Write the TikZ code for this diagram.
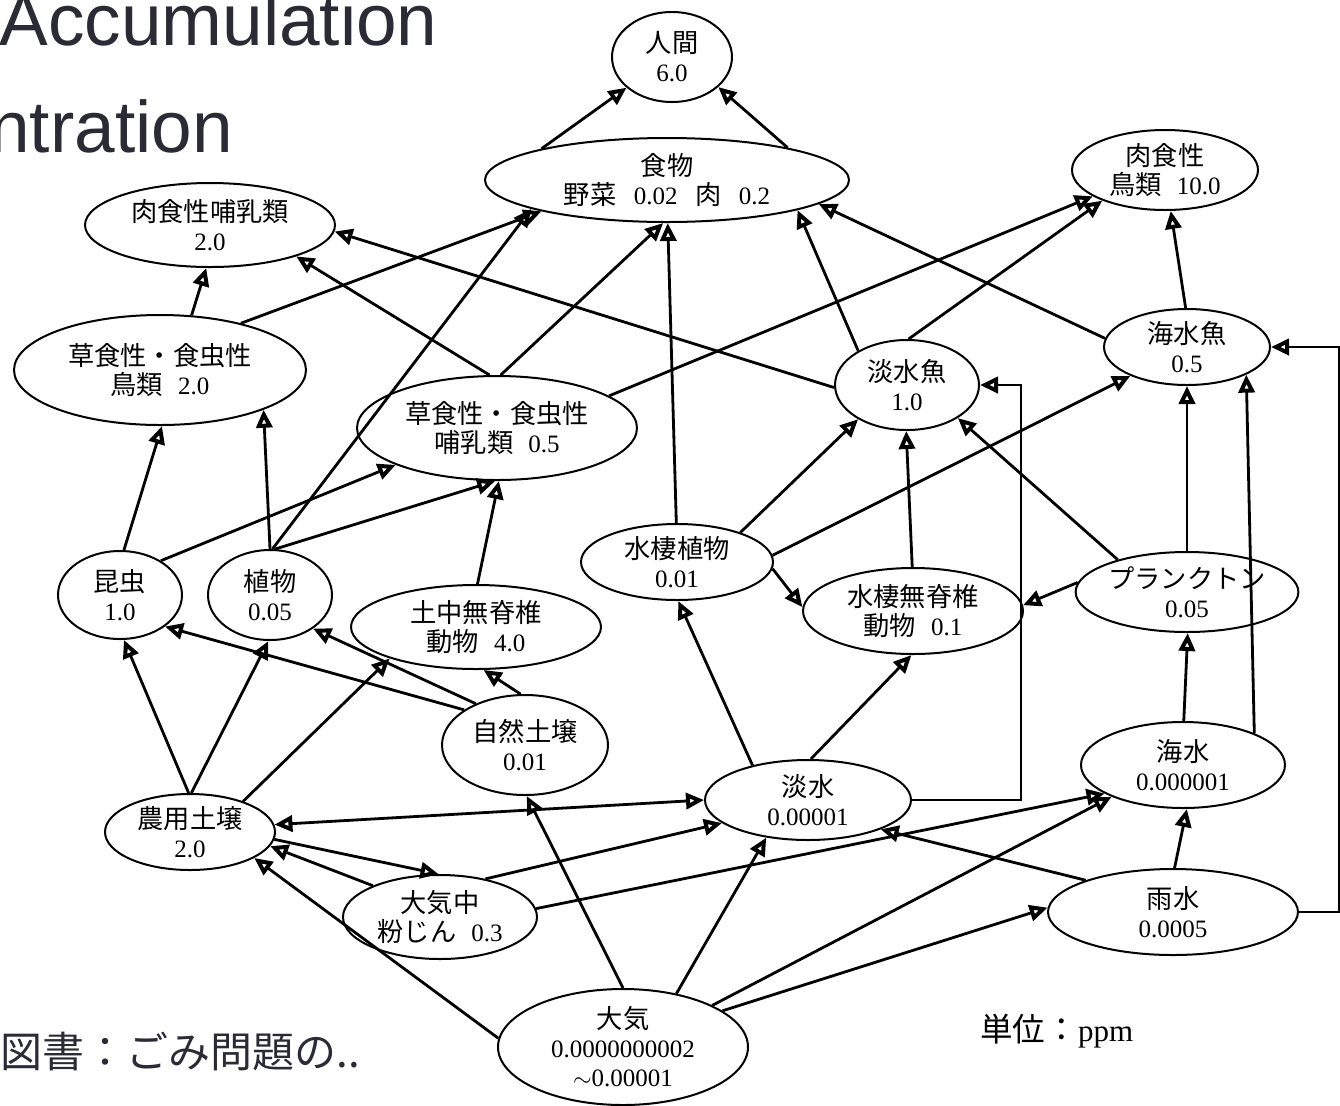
\documentclass[tikz,border=0pt]{standalone}
\usepackage{fontspec}
\setmainfont{Liberation Serif}
\newfontfamily\jp[Scale=1.05]{Noto Sans CJK JP}
\newfontfamily\ttl{Liberation Sans}
\usetikzlibrary{arrows.meta,shapes.geometric}
\definecolor{slidetext}{HTML}{2B2B35}

\begin{document}
\begin{tikzpicture}[x=0.5pt, y=-0.5pt,
  eco/.style 2 args={ellipse, draw, line width=1pt, inner sep=0pt, minimum width=#1, minimum height=#2, align=center, font=\fontsize{12.5}{14.5}\selectfont},
  arr/.style={line width=1.4pt, -{Triangle[open, length=9pt, width=8pt, line width=2pt]}},
  arrtwo/.style={line width=1.4pt, {Triangle[open, length=9pt, width=8pt, line width=2pt]}-{Triangle[open, length=9pt, width=8pt, line width=2pt]}}]
\useasboundingbox (0,0) rectangle (1340,1105);
\node[font=\ttl\fontsize{36.5}{40}\selectfont, text=slidetext, anchor=base west, inner sep=0pt] (ttla) at (-1,45) {Accumulation};
\node[font=\ttl\fontsize{36.5}{40}\selectfont, text=slidetext, anchor=base west, inner sep=0pt] (ttlb) at (-11,152) {ntration};
\node[font=\jp\fontsize{20}{24}\selectfont, text=slidetext, anchor=base west, inner sep=0pt] (src) at (0,1067) {図書：ごみ問題の..};
\node[font=\fontsize{15.5}{18}\selectfont, anchor=base west, inner sep=0pt] (unit) at (980,1041) {{\jp 単位：}ppm};
% consumers
\node[eco={60pt}{45pt}] (human) at (672,57) {{\jp 人間}\\6.0};
\node[eco={182pt}{42pt}] (food) at (667,180) {{\jp 食物}\\{\jp 野菜}\hspace{0.7em}0.02\hspace{0.7em}{\jp 肉}\hspace{0.7em}0.2};
\node[eco={125pt}{42pt}] (carnmam) at (210,225) {{\jp 肉食性哺乳類}\\2.0};
\node[eco={93pt}{40pt}] (carnbird) at (1165,170) {{\jp 肉食性}\\{\jp 鳥類}\hspace{0.6em}10.0};
\node[eco={146pt}{55pt}] (herbbird) at (160,370) {{\jp 草食性・食虫性}\\{\jp 鳥類}\hspace{0.6em}2.0};
\node[eco={140pt}{52pt}] (herbmam) at (497,428) {{\jp 草食性・食虫性}\\{\jp 哺乳類}\hspace{0.6em}0.5};
\node[eco={72pt}{45pt}] (fwfish) at (907,385) {{\jp 淡水魚}\\1.0};
\node[eco={83pt}{38pt}] (swfish) at (1187,347) {{\jp 海水魚}\\0.5};
\node[eco={62pt}{44pt}] (insect) at (120,595) {{\jp 昆虫}\\1.0};
\node[eco={62pt}{45pt}] (plant) at (270,595) {{\jp 植物}\\0.05};
\node[eco={125pt}{42pt}] (soilinv) at (476,627) {{\jp 土中無脊椎}\\{\jp 動物}\hspace{0.6em}4.0};
\node[eco={96pt}{38pt}] (aqplant) at (677,562) {{\jp 水棲植物}\\0.01};
\node[eco={110pt}{43pt}] (aqinv) at (913,611) {{\jp 水棲無脊椎}\\{\jp 動物}\hspace{0.6em}0.1};
\node[eco={103pt}{40pt}] (plankton) at (1187,592) {{\jp プランクトン}\\0.05};
% sources
\node[eco={83pt}{50pt}] (natsoil) at (525,745) {{\jp 自然土壌}\\0.01};
\node[eco={103pt}{40pt}] (fwater) at (808,800) {{\jp 淡水}\\0.00001};
\node[eco={102pt}{43pt}] (swater) at (1183,765) {{\jp 海水}\\0.000001};
\node[eco={85pt}{38pt}] (agsoil) at (190,832) {{\jp 農用土壌}\\2.0};
\node[eco={97pt}{42pt}] (dust) at (440,917) {{\jp 大気中}\\{\jp 粉じん}\hspace{0.6em}0.3};
\node[eco={125pt}{43pt}] (rain) at (1173,912) {{\jp 雨水}\\0.0005};
\node[eco={125pt}{58pt}] (air) at (623,1047) {{\jp 大気}\\0.0000000002\\$\sim$0.00001};
% flows
\draw[arr](food.166) -- (human.214);
\draw[arr](food.15) -- (human.-33);
\draw[arr](herbbird.60) -- (carnmam.-95);
\draw[arr](herbbird.30) -- (food.-166);
\draw[arr](insect.85) -- (herbbird.-88);
\draw[arr](insect.40) -- (herbmam.200);
\draw[arr](plant.90) -- (herbbird.-21);
\draw[arr](plant.87) -- (food.-168);
\draw[arr](plant.84) -- (herbmam.-92);
\draw[arr](soilinv.88) -- (herbmam.-88);
\draw[arr](herbmam.98) -- (carnmam.-20);
\draw[arr](herbmam.86) -- (food.-95);
\draw[arr](herbmam.16) -- (carnbird.-160);
\draw[arr](fwfish.182) -- (carnmam.-3);
\draw[arr](fwfish.145) -- (food.-13);
\draw[arr](fwfish.88) -- (carnbird.-154);
\draw[arr](swfish.92) -- (carnbird.-82);
\draw[arr](swfish.174) -- (food.-9);
\draw[arr](aqplant.91) -- (food.-89);
\draw[arr](aqplant.25) -- (fwfish.-145);
\draw[arr](aqplant.4) -- (swfish.-153);
\draw[arr](aqplant.-4) -- (aqinv.178);
\draw[arr](aqinv.91) -- (fwfish.-91);
\draw[arr](plankton.155) -- (fwfish.-33);
\draw[arr](plankton.175) -- (aqinv.3);
\draw[arr](plankton.90) -- (swfish.-90);
\draw[arr](swater.89) -- (plankton.-89);
\draw[arr](swater.24) -- (swfish.-25);
\draw[arr](rain.88) -- (swater.-85);
\draw[arr](rain.east) -- ++(40,0) |- (swfish.east);
\draw[arr](fwater.east) -- ++(109,0) |- (fwfish.east);
\draw[arr](rain.160) -- (fwater.-22);
\draw[arr](fwater.148) -- (aqplant.-88);
\draw[arr](fwater.86) -- (aqinv.-92);
\draw[arrtwo](agsoil.5) -- (fwater.180);
\draw[arr](agsoil.-5) -- (dust.92);
\draw[arr](dust.155) -- (agsoil.-10);
\draw[arr](dust.40) -- (fwater.195);
\draw[arr](dust.5) -- (swater.-160);
\draw[arr](air.25) -- (swater.-156);
\draw[arr](air.20) -- (rain.178);
\draw[arr](air.45) -- (fwater.-138);
\draw[arr](air.90) -- (natsoil.-88);
\draw[arr](air.176) -- (agsoil.-22);
\draw[arr](natsoil.150) -- (insect.-35);
\draw[arr](natsoil.140) -- (plant.-38);
\draw[arr](natsoil.95) -- (soilinv.-80);
\draw[arr](agsoil.92) -- (insect.-85);
\draw[arr](agsoil.88) -- (plant.-92);
\draw[arr](agsoil.30) -- (soilinv.-160);
\end{tikzpicture}
\end{document}
